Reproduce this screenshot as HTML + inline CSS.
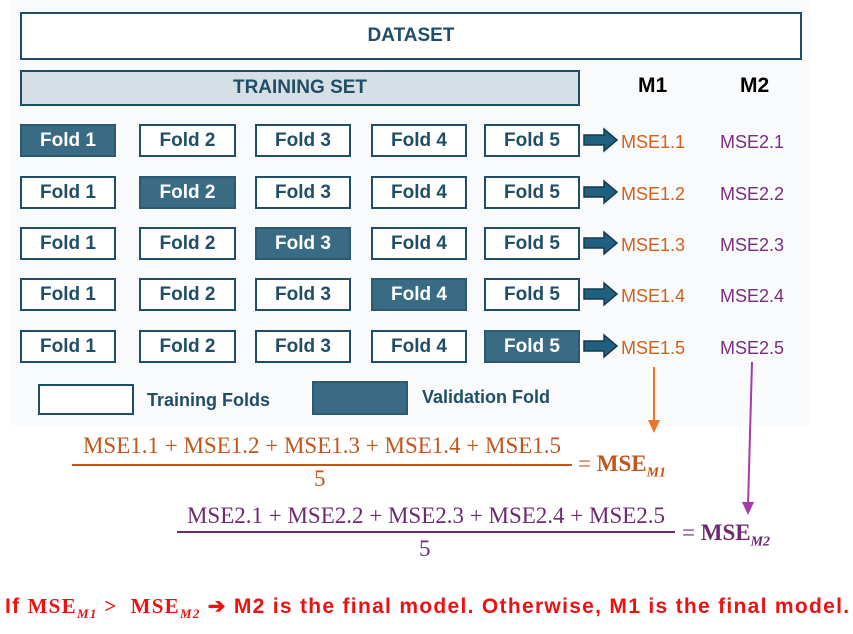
<!DOCTYPE html>
<html><head><style>
body{margin:0;width:853px;height:634px;background:#fff;position:relative;overflow:hidden;font-family:"Liberation Sans",sans-serif}
.a{position:absolute;box-sizing:border-box}
.f{border:2px solid #1f4e66;background:#fff;color:#1f4e66;font-weight:bold;font-size:19px;display:flex;align-items:center;justify-content:center;height:33px}
.v{background:#3a6b85;color:#fff;border-color:#2d5a70}
.m1{color:#d2601a;font-size:18px}
.m2{color:#7a2e7d;font-size:18px}
.ser{font-family:"Liberation Serif",serif}
</style></head><body>
<div class="a" style="left:10px;top:0;width:800px;height:425px;background:#f9fafc"></div>
<div class="a f" style="left:20px;top:12px;width:782px;height:48px;font-size:19px">DATASET</div>
<div class="a f" style="left:20px;top:70px;width:560px;height:36px;background:#d5dfe5;font-size:19px">TRAINING SET</div>
<div class="a" style="left:638px;top:74px;font-weight:bold;font-size:21px">M1</div>
<div class="a" style="left:740px;top:74px;font-weight:bold;font-size:21px">M2</div>
<div id="g"></div>
<script>
var xs=[[20,96],[139,97],[255,96],[371,96],[484,96]],ys=[124,176,227,278,330],h='';
for(var r=0;r<5;r++){for(var c=0;c<5;c++){h+='<div class="a f'+(r==c?' v':'')+'" style="left:'+xs[c][0]+'px;top:'+ys[r]+'px;width:'+xs[c][1]+'px">Fold '+(c+1)+'</div>';}
var y=ys[r]+16;
h+='<svg class="a" style="left:582px;top:'+(y-13)+'px" width="38" height="26"><polygon points="2,8 22,8 22,2 35,13 22,24 22,18 2,18" fill="#1f5f7f" stroke="#163a4c" stroke-width="1.5"/></svg>';
h+='<div class="a m1" style="left:621px;top:'+(y-8)+'px">MSE1.'+(r+1)+'</div><div class="a m2" style="left:720px;top:'+(y-8)+'px">MSE2.'+(r+1)+'</div>';}
document.getElementById('g').innerHTML=h;
</script>
<div class="a" style="left:38px;top:384px;width:96px;height:31px;border:2px solid #1f4e66;background:#fff"></div>
<div class="a" style="left:147px;top:390px;font-size:18px;font-weight:bold;color:#1f4e66">Training Folds</div>
<div class="a" style="left:312px;top:381px;width:96px;height:34px;border:2px solid #2d5a70;background:#3a6b85"></div>
<div class="a" style="left:422px;top:387px;font-size:18px;font-weight:bold;color:#1f4e66">Validation Fold</div>
<svg class="a" style="left:0;top:0" width="853" height="634">
<line x1="654" y1="367" x2="654" y2="424" stroke="#e8762b" stroke-width="2"/><polygon points="648,420 660,420 654,433" fill="#e8762b"/>
<line x1="752" y1="362" x2="748" y2="506" stroke="#a63aa8" stroke-width="2"/><polygon points="742,502 754,502 748,515" fill="#a63aa8"/>
<line x1="72" y1="465" x2="572" y2="465" stroke="#c0561a" stroke-width="2"/>
<line x1="177" y1="532" x2="675" y2="532" stroke="#6e2a70" stroke-width="2"/>
</svg>
<div class="a ser" style="left:60px;top:433px;width:524px;text-align:center;font-size:23px;color:#c0561a;white-space:nowrap">MSE1.1 + MSE1.2 + MSE1.3 + MSE1.4 + MSE1.5</div>
<div class="a ser" style="left:314px;top:466px;font-size:23px;color:#c0561a">5</div>
<div class="a ser" style="left:578px;top:451px;font-size:23px;color:#c0561a;white-space:nowrap">= <b>MSE<sub style="font-size:14px;font-style:italic">M1</sub></b></div>
<div class="a ser" style="left:165px;top:503px;width:522px;text-align:center;font-size:23px;color:#6e2a70;white-space:nowrap">MSE2.1 + MSE2.2 + MSE2.3 + MSE2.4 + MSE2.5</div>
<div class="a ser" style="left:419px;top:536px;font-size:23px;color:#6e2a70">5</div>
<div class="a ser" style="left:682px;top:520px;font-size:23px;color:#6e2a70;white-space:nowrap">= <b>MSE<sub style="font-size:14px;font-style:italic">M2</sub></b></div>
<div class="a" style="left:5px;top:594px;font-size:21px;font-weight:bold;color:#ee1111;white-space:nowrap;letter-spacing:1.3px">If <span class="ser">MSE<sub style="font-size:13px;font-style:italic">M1</sub> &gt;&nbsp; MSE<sub style="font-size:13px;font-style:italic">M2</sub></span> ➔ M2 is the final model. Otherwise, M1 is the final model.</div>
</body></html>
